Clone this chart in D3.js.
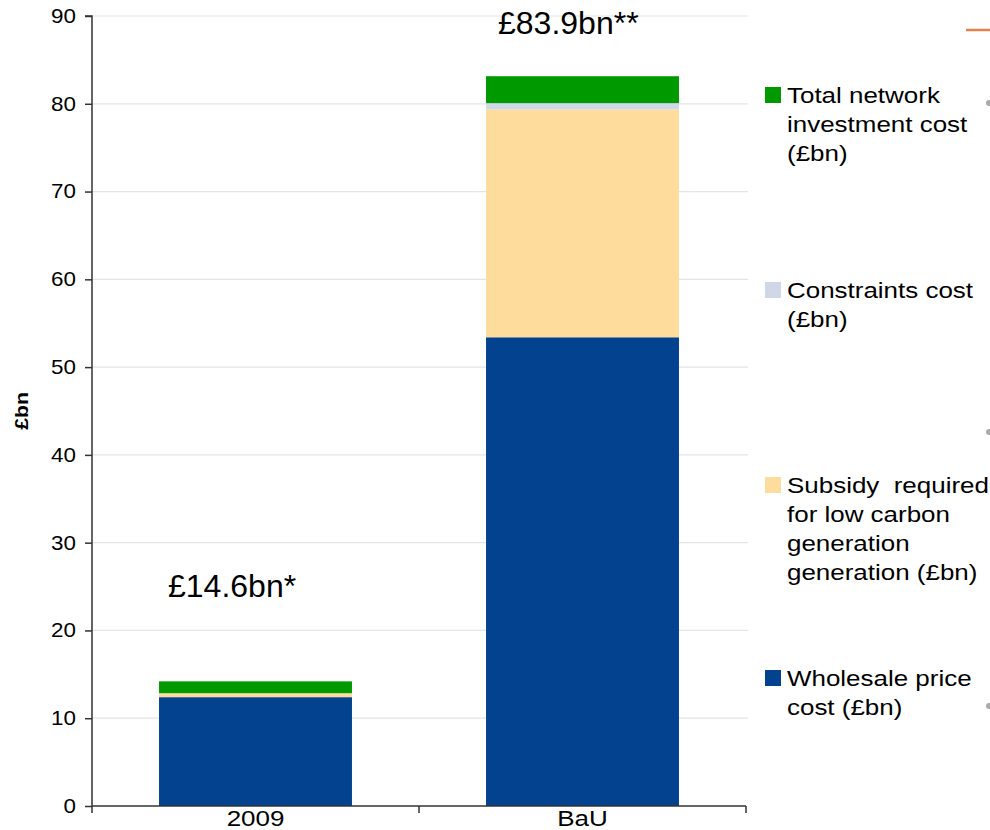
<!DOCTYPE html>
<html>
<head>
<meta charset="utf-8">
<script src="https://cdn.jsdelivr.net/npm/d3@7"></script>
<style>
  body { margin: 0; background: #fff; }
  text { font-family: "Liberation Sans", Arial, sans-serif; white-space: pre; }
</style>
</head>
<body>
<div id="chart"></div>
<script>
// data
var categories = ['2009', 'BaU'];
var wholesale = [12.4, 53.4];
var subsidy = [0.45, 25.95];
var constraints = [0.0, 0.72];
var network = [1.35, 3.07];
var totalLabels = ['£14.6bn*', '£83.9bn**'];
var yTicks = [0, 10, 20, 30, 40, 50, 60, 70, 80, 90];

var seriesKeys = ['wholesale', 'subsidy', 'constraints', 'network'];
var seriesColors = {
  wholesale: '#03428f',
  subsidy: '#fddc9c',
  constraints: '#d0d8e8',
  network: '#009900'
};
var legendItems = [
  { key: 'network', lines: ['Total network', 'investment cost', '(£bn)'] },
  { key: 'constraints', lines: ['Constraints cost', '(£bn)'] },
  { key: 'subsidy', lines: ['Subsidy  required', 'for low carbon', 'generation', 'generation (£bn)'] },
  { key: 'wholesale', lines: ['Wholesale price', 'cost (£bn)'] }
];

var table = categories.map(function (c, i) {
  return {
    cat: c,
    wholesale: wholesale[i],
    subsidy: subsidy[i],
    constraints: constraints[i],
    network: network[i]
  };
});

var W = 990, H = 830;
var margin = { top: 16, left: 92, bottom: 24 };
var plotW = 654;
var plotH = H - margin.top - margin.bottom;
var stretch = 1.18; // the original text is a little wide

var svg = d3.select('#chart').append('svg')
  .attr('width', W)
  .attr('height', H);

var g = svg.append('g')
  .attr('transform', 'translate(' + margin.left + ',' + margin.top + ')');

var x = d3.scaleBand().domain(categories).range([0, plotW]).paddingInner(0.41).paddingOuter(0.205);
var y = d3.scaleLinear().domain([0, 90]).range([plotH, 0]);

// gridlines
g.append('g')
  .selectAll('line')
  .data(yTicks.slice(1))
  .enter()
  .append('line')
  .attr('x1', 0)
  .attr('x2', plotW + 2)
  .attr('y1', function (d) { return y(d); })
  .attr('y2', function (d) { return y(d); })
  .attr('stroke', '#e4e4e4')
  .attr('stroke-width', 1.2);

// stacked bars
var stack = d3.stack().keys(seriesKeys)(table);
g.append('g')
  .selectAll('g')
  .data(stack)
  .enter()
  .append('g')
  .attr('fill', function (d) { return seriesColors[d.key]; })
  .selectAll('rect')
  .data(function (d) { return d; })
  .enter()
  .append('rect')
  .attr('x', function (d) { return x(d.data.cat); })
  .attr('width', x.bandwidth())
  .attr('y', function (d) { return y(d[1]); })
  .attr('height', function (d) { return y(d[0]) - y(d[1]); });

// y axis
var yAxis = g.append('g')
  .call(d3.axisLeft(y).tickValues(yTicks).tickSize(7).tickPadding(0));
yAxis.selectAll('text')
  .style('font-size', '20px')
  .attr('fill', '#000')
  .attr('x', 0)
  .attr('transform', 'translate(-16,0) scale(1.12,1)');
yAxis.selectAll('line, path').attr('stroke', '#333').attr('stroke-width', 1.5);
yAxis.select('path').attr('d', 'M0,' + plotH + 'V0H-7');

// x axis (ticks between categories)
var xAxis = g.append('g')
  .attr('transform', 'translate(0,' + plotH + ')');
xAxis.append('line')
  .attr('x1', 0).attr('x2', plotW)
  .attr('stroke', '#333').attr('stroke-width', 1.5);
var xTicks = [0, plotW / 2, plotW];
xAxis.selectAll('line.tick')
  .data(xTicks)
  .enter()
  .append('line')
  .attr('class', 'tick')
  .attr('x1', function (d) { return d; })
  .attr('x2', function (d) { return d; })
  .attr('y1', 0).attr('y2', 7)
  .attr('stroke', '#333').attr('stroke-width', 1.5);
xAxis.selectAll('text')
  .data(categories)
  .enter()
  .append('text')
  .attr('transform', function (d) {
    return 'translate(' + (x(d) + x.bandwidth() / 2) + ',20) scale(' + stretch + ',1)';
  })
  .attr('text-anchor', 'middle')
  .style('font-size', '22px')
  .text(function (d) { return d; });

// y axis title
svg.append('text')
  .attr('transform', 'translate(28,' + (margin.top + y(45)) + ') rotate(-90) scale(' + stretch + ',1)')
  .attr('text-anchor', 'middle')
  .style('font-size', '18px')
  .style('font-weight', 'bold')
  .text('£bn');

// total labels
var labelY = [y(23.8), y(88.0)];
var labelX = [168, 498];
g.selectAll('text.total')
  .data(totalLabels)
  .enter()
  .append('text')
  .attr('class', 'total')
  .attr('x', function (d, i) { return labelX[i] - margin.left; })
  .attr('y', function (d, i) { return labelY[i]; })
  .style('font-size', '32px')
  .text(function (d) { return d; });

// legend
var legendTop = [95, 290, 485, 678];
var legend = svg.append('g');
legendItems.forEach(function (item, i) {
  var lg = legend.append('g').attr('transform', 'translate(765,' + legendTop[i] + ')');
  lg.append('rect')
    .attr('x', 0).attr('y', -8)
    .attr('width', 16).attr('height', 16)
    .attr('fill', seriesColors[item.key]);
  lg.selectAll('text')
    .data(item.lines)
    .enter()
    .append('text')
    .attr('transform', function (d, j) {
      return 'translate(22,' + (8 + j * 29) + ') scale(' + stretch + ',1)';
    })
    .style('font-size', '22px')
    .text(function (d) { return d; });
});

// edge of a neighbouring element
svg.append('line')
  .attr('x1', 966).attr('x2', 992)
  .attr('y1', 30).attr('y2', 30)
  .attr('stroke', '#e8804a').attr('stroke-width', 2.5);
svg.selectAll('circle.edge')
  .data([103, 432, 706])
  .enter()
  .append('circle')
  .attr('class', 'edge')
  .attr('cx', 989).attr('cy', function (d) { return d; })
  .attr('r', 3)
  .attr('fill', '#aaa');
</script>
</body>
</html>
